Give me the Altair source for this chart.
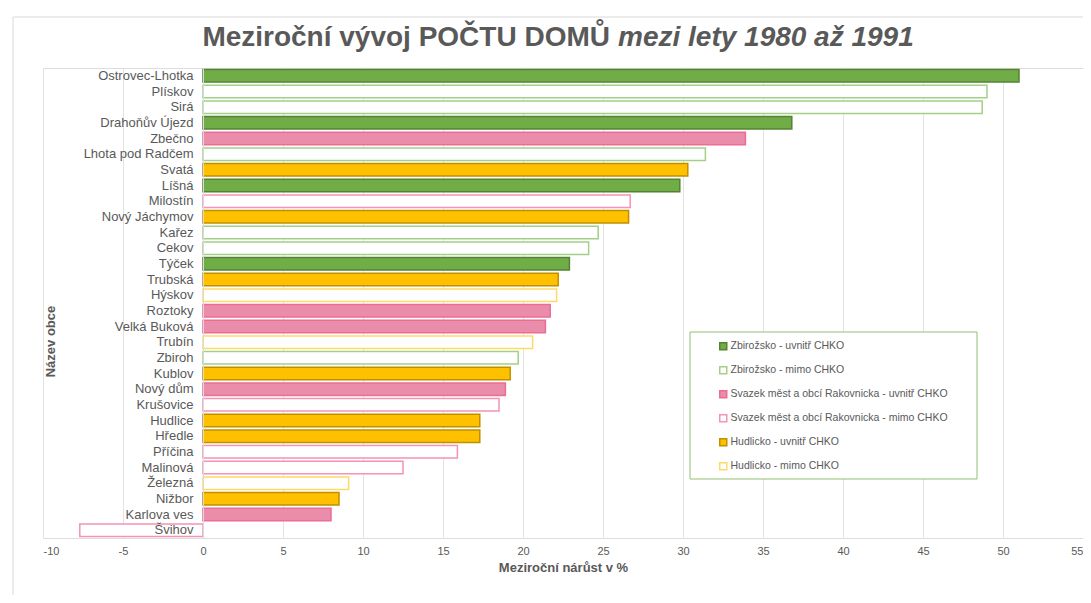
import altair as alt
import pandas as pd

names = ["Ostrovec-Lhotka", "Plískov", "Sirá", "Drahoňův Újezd", "Zbečno",
         "Lhota pod Radčem", "Svatá", "Líšná", "Milostín", "Nový Jáchymov",
         "Kařez", "Cekov ", "Týček", "Trubská", "Hýskov", "Roztoky",
         "Velká Buková", "Trubín", "Zbiroh", "Kublov", "Nový dům", "Krušovice",
         "Hudlice", "Hředle", "Příčina", "Malinová", "Železná", "Nižbor",
         "Karlova ves", "Švihov"]
values = [51.0, 49.0, 48.7, 36.8, 33.9, 31.4, 30.3, 29.8, 26.7, 26.6,
          24.7, 24.1, 22.9, 22.2, 22.1, 21.7, 21.4, 20.6, 19.7, 19.2,
          18.9, 18.5, 17.3, 17.3, 15.9, 12.5, 9.1, 8.5, 8.0, -7.7]
ZU = "Zbirožsko - uvnitř CHKO"
ZM = "Zbirožsko - mimo CHKO"
RU = "Svazek měst a obcí Rakovnicka - uvnitř CHKO"
RM = "Svazek měst a obcí Rakovnicka - mimo CHKO"
HU = "Hudlicko - uvnitř CHKO"
HM = "Hudlicko - mimo CHKO"
groups = [ZU, ZM, ZM, ZU, RU, ZM, HU, ZU, RM, HU,
          ZM, ZM, ZU, HU, HM, RU, RU, HM, ZM, HU,
          RU, RM, HU, HU, RM, RM, HM, HU, RU, RM]
group_order = [ZU, ZM, RU, RM, HU, HM]
fill_colors = ["#70AD47", "#FFFFFF", "#EA8DAA", "#FFFFFF", "#FFC000", "#FFFFFF"]
stroke_colors = ["#548235", "#A3CF86", "#EC6C95", "#F592B6", "#C09000", "#FFD966"]
x_ticks = list(range(-10, 60, 5))

title_main = "Meziroční vývoj POČTU DOMŮ"
title_italic = "mezi lety 1980 až 1991"
x_title = "Meziroční nárůst v %"
y_title = "Název obce"

df = pd.DataFrame({"name": names, "value": values, "group": groups})
one = pd.DataFrame({"a": [0]})

FONT = "Liberation Sans"
GRAY = "#595959"

W, H = 1040, 470

legend = alt.Legend(
    title=None, orient="none", legendX=675, legendY=273,
    symbolType="square", symbolSize=49, symbolStrokeWidth=1.5,
    labelFontSize=10.5, labelColor=GRAY, labelFont=FONT, rowPadding=10,
    labelOffset=2, padding=0, labelLimit=400,
)

bars = alt.Chart(df).mark_bar(strokeWidth=1.5).encode(
    x=alt.X("value:Q", scale=alt.Scale(domain=[-10, 55], nice=False, zero=False),
            axis=alt.Axis(values=x_ticks, title=x_title, grid=True, gridColor="#e3e3e3",
                          domain=False, ticks=False, labelColor=GRAY, labelFontSize=11,
                          labelExpr="'' + datum.value",
                          labelFont=FONT, labelPadding=7, titleFont=FONT, titleFontSize=13,
                          titleColor=GRAY, titleFontWeight="bold", titlePadding=5)),
    y=alt.Y("name:N", sort=None,
            scale=alt.Scale(paddingInner=0.2, paddingOuter=0.1),
            axis=alt.Axis(title=y_title, offset=-160, ticks=False, tickSize=0,
                          domainColor="#d9d9d9", labelPadding=10, labelFontSize=13,
                          labelFont=FONT, labelColor=GRAY, zindex=1,
                          titleFont=FONT, titleFontSize=13, titleColor=GRAY,
                          titleFontWeight="bold", titleAngle=270, titleX=-153,
                          titleY=273, titleAlign="center", titleBaseline="middle")),
    fill=alt.Fill("group:N", scale=alt.Scale(domain=group_order, range=fill_colors),
                  legend=legend),
    stroke=alt.Stroke("group:N", scale=alt.Scale(domain=group_order, range=stroke_colors),
                      legend=legend),
)

frame = alt.Chart(one).mark_rect(fill=None, stroke="#d9d9d9", strokeWidth=1).encode(
    x=alt.value(-30), x2=alt.value(1100), y=alt.value(-51), y2=alt.value(600)
)

legend_box = alt.Chart(one).mark_rect(fill="white", stroke="#8FC170", strokeWidth=1).encode(
    x=alt.value(647), x2=alt.value(934), y=alt.value(264), y2=alt.value(411)
)

t1 = alt.Chart(one).mark_text(text=title_main, font=FONT, fontSize=28, fontWeight="bold",
                              color=GRAY, align="right", baseline="alphabetic").encode(
    x=alt.value(567), y=alt.value(-22))
t2 = alt.Chart(one).mark_text(text=title_italic, font=FONT, fontSize=28, fontWeight="bold",
                              fontStyle="italic", color=GRAY, align="left",
                              baseline="alphabetic").encode(
    x=alt.value(575), y=alt.value(-22))

chart = alt.layer(frame, legend_box, bars, t1, t2).properties(
    width=W, height=H,
    autosize=alt.AutoSizeParams(type="none"),
    padding={"left": 35, "top": 60, "right": 0, "bottom": 57},
).configure_view(stroke=None).configure(background="white")

chart.save("out.html", embed_options={"renderer": "svg", "actions": False})
